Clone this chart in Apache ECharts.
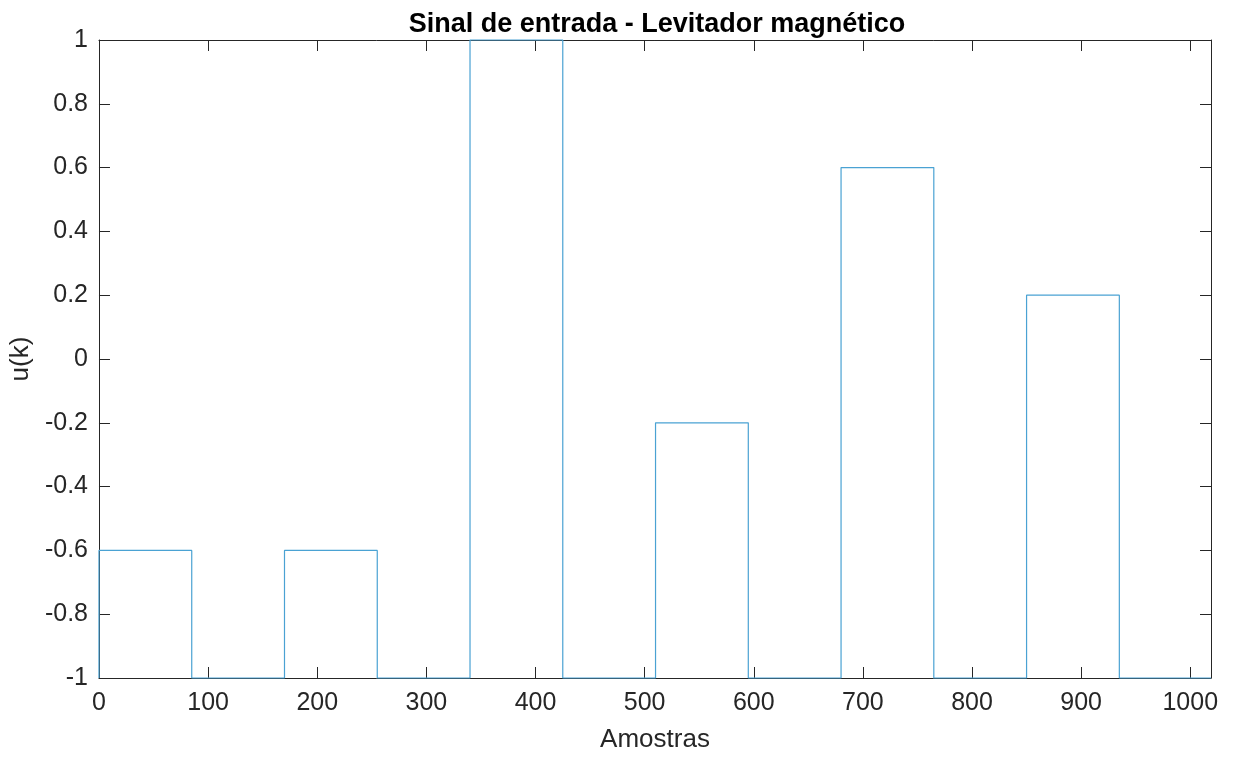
<!DOCTYPE html>
<html>
<head>
<meta charset="utf-8">
<script src="https://cdn.jsdelivr.net/npm/echarts@6/dist/echarts.min.js"></script>
<style>
html,body{margin:0;padding:0;background:#fff;}
#chart{width:1235px;height:758px;}
</style>
</head>
<body>
<div id="chart"></div>
<script>
// segment start sample indices
var segStarts = [0, 85, 170, 255, 340, 425, 510, 595, 680, 765, 850, 935];
var segEnd = 1019;
// signal level in each segment
var segLevels = [-0.6, -1, -0.6, -1, 1, -1, -0.2, -1, 0.6, -1, 0.2, -1];
var initialLevel = -1;
var xTicks = [0, 100, 200, 300, 400, 500, 600, 700, 800, 900, 1000];
var yTicks = [-1, -0.8, -0.6, -0.4, -0.2, 0, 0.2, 0.4, 0.6, 0.8, 1];

var pts = [[segStarts[0], initialLevel]];
for (var i = 0; i < segStarts.length; i++) {
  var end = (i + 1 < segStarts.length) ? segStarts[i + 1] : segEnd;
  pts.push([segStarts[i], segLevels[i]]);
  pts.push([end, segLevels[i]]);
}

var font = 'Liberation Sans, Arial, Helvetica, sans-serif';
var axisColor = '#262626';
function xFmt(v){
  var r = Math.round(v);
  return (Math.abs(v - r) < 1e-6 && xTicks.indexOf(r) >= 0) ? String(r) : '';
}
function yFmt(v){
  for (var i = 0; i < yTicks.length; i++) if (Math.abs(yTicks[i] - v) < 1e-9) return String(yTicks[i]);
  return '';
}
function xAx(pos, showLabel){
  return {
    type: 'value', position: pos, min: 0, max: segEnd, interval: 100,
    axisLine: {show: true, onZero: false, lineStyle: {color: axisColor, width: 1}},
    axisTick: {show: true, inside: true, length: 11, lineStyle: {color: axisColor, width: 1}},
    axisLabel: {show: showLabel, formatter: xFmt, showMaxLabel: false, color: axisColor, fontFamily: font, fontSize: 25, margin: 13},
    splitLine: {show: false},
    name: showLabel ? 'Amostras' : '', nameLocation: 'middle', nameGap: 49,
    nameTextStyle: {color: axisColor, fontFamily: font, fontSize: 26}
  };
}
function yAx(pos, showLabel){
  return {
    type: 'value', position: pos, min: -1, max: 1, interval: 0.2,
    axisLine: {show: true, onZero: false, lineStyle: {color: axisColor, width: 1}},
    axisTick: {show: true, inside: true, length: 11, lineStyle: {color: axisColor, width: 1}},
    axisLabel: {show: showLabel, formatter: yFmt, color: axisColor, fontFamily: font, fontSize: 25, margin: 11},
    splitLine: {show: false},
    name: showLabel ? 'u(k)' : '', nameLocation: 'middle', nameGap: 62, nameRotate: 90,
    nameTextStyle: {color: axisColor, fontFamily: font, fontSize: 26}
  };
}

var chart = echarts.init(document.getElementById('chart'), null, {renderer: 'canvas'});
chart.setOption({
  animation: false,
  backgroundColor: '#ffffff',
  title: {
    text: 'Sinal de entrada - Levitador magnético',
    left: 652, top: 6, textAlign: 'center',
    textStyle: {fontFamily: font, fontSize: 27, fontWeight: 'bold', color: '#000'}
  },
  grid: {left: 95, right: 24, top: 40, bottom: 80, containLabel: false},
  xAxis: [xAx('bottom', true), xAx('top', false)],
  yAxis: [yAx('left', true), yAx('right', false)],
  series: [{
    type: 'line', xAxisIndex: 0, yAxisIndex: 0,
    data: pts, showSymbol: false, symbol: 'none',
    lineStyle: {color: '#4aa2d3', width: 1.2},
    clip: false
  }]
});
</script>
</body>
</html>
